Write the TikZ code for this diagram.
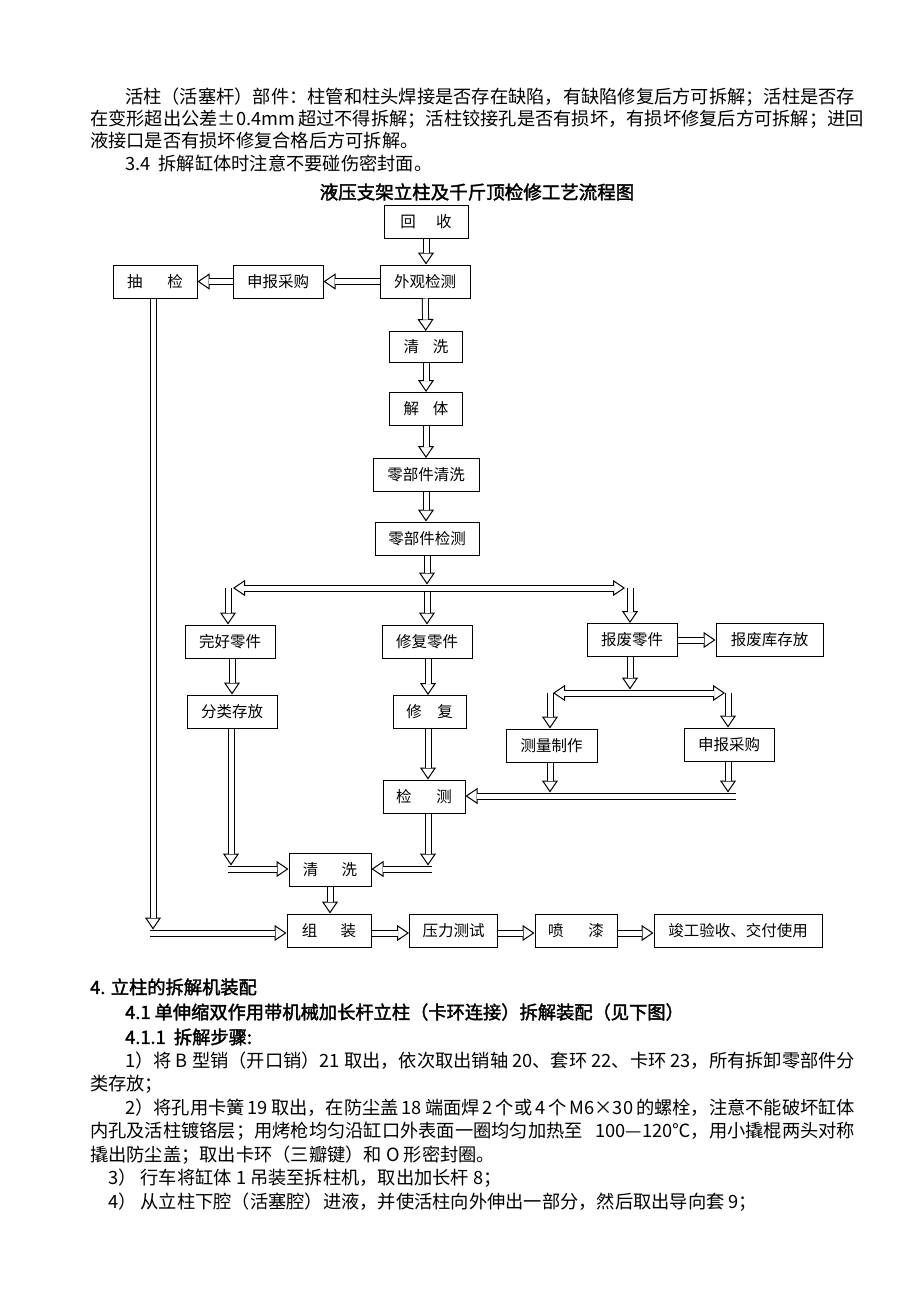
\documentclass[tikz,border=0pt]{standalone}
\usepackage{fontspec}
\setmainfont{Noto Sans CJK SC}
\newfontfamily\cjkbold[FakeBold=2]{Noto Sans CJK SC}
\usetikzlibrary{arrows.meta}
\XeTeXlinebreaklocale "zh"
\XeTeXlinebreakskip=0pt plus 4pt
\tikzset{
  box/.style={rectangle,draw,line width=1pt,minimum height=33pt,inner sep=0pt,font=\fontsize{15.5}{16}\selectfont},
  hollow/.tip={Triangle[open,fill=white,color=black,length=12pt,width=16pt,line width=1pt]},
  harrow/.style={preaction={draw=white,line width=0.3pt,shorten >=0pt,-hollow},
    preaction={draw=black,line width=7pt},draw=white,line width=5pt,shorten >=11.4pt},
  harrowgap/.style={preaction={draw=white,line width=0.3pt,shorten >=3.5pt,-hollow},
    preaction={draw=black,line width=7pt},draw=white,line width=5pt,shorten >=14.9pt},
  hbar/.style={preaction={draw=white,line width=0.3pt,shorten >=0pt,shorten <=0pt,hollow-hollow},
    preaction={draw=black,line width=7pt},draw=white,line width=5pt,shorten >=11.4pt,shorten <=11.4pt},
  txt/.style={anchor=west,inner sep=0pt,font=\fontsize{18.25}{22}\selectfont},
  headtxt/.style={anchor=west,inner sep=0pt,font=\cjkbold\fontsize{18.25}{22}\selectfont}
}
\begin{document}
\begin{tikzpicture}[x=1pt,y=-1pt]
        \useasboundingbox (0,0) rectangle (920,1302);
        \node at (125,97) [txt] (p1) {\makebox[730pt][s]{活柱（活塞杆）部件：柱管和柱头焊接是否存在缺陷，有缺陷修复后方可拆解；活柱是否存}};
        \node at (90,119) [txt] (p2) {\makebox[765pt][s]{在变形超出公差±0.4mm 超过不得拆解；活柱铰接孔是否有损坏，有损坏修复后方可拆解；进回}};
        \node at (90,141) [txt] (p3) {液接口是否有损坏修复合格后方可拆解。};
        \node at (125,163) [txt] (p4) {3.4\ \ 拆解缸体时注意不要碰伤密封面。};
        \node at (477,192) [font=\cjkbold\fontsize{18.5}{20}\selectfont,inner sep=0pt] (title) {液压支架立柱及千斤顶检修工艺流程图};

        \node at (426,222) [box,minimum width=84pt] (huishou) {回\hspace{1.3em}收};
        \node at (155,281.5) [box,minimum width=84pt] (choujian) {抽\hspace{1.6em}检};
        \node at (278,281.5) [box,minimum width=90pt] (shenbao1) {申报采购};
        \node at (425,281.5) [box,minimum width=90pt] (waiguan) {外观检测};
        \node at (426,347) [box,minimum width=73pt,minimum height=31pt] (qingxi1) {清\hspace{0.9em}洗};
        \node at (426,409) [box,minimum width=73pt] (jieti) {解\hspace{0.9em}体};
        \node at (426,475) [box,minimum width=106pt] (ljqx) {零部件清洗};
        \node at (427,538.5) [box,minimum width=104pt] (ljjc) {零部件检测};
        \node at (230,641.5) [box,minimum width=90pt] (wanhao) {完好零件};
        \node at (427,641.5) [box,minimum width=90pt] (xiuling) {修复零件};
        \node at (632,640) [box,minimum width=90pt] (baofei) {报废零件};
        \node at (769.5,640) [box,minimum width=107pt] (baofeiku) {报废库存放};
        \node at (232,711.5) [box,minimum width=90pt] (fenlei) {分类存放};
        \node at (429.5,712) [box,minimum width=73pt] (xiufu) {修\hspace{1em}复};
        \node at (551.5,745.5) [box,minimum width=91pt] (celiang) {测量制作};
        \node at (729,744.5) [box,minimum width=90pt] (shenbao2) {申报采购};
        \node at (424,796.5) [box,minimum width=82pt] (jiance) {检\hspace{1.6em}测};
        \node at (330,869.5) [box,minimum width=82pt] (qingxi2) {清\hspace{1.5em}洗};
        \node at (329,930.5) [box,minimum width=84pt] (zuzhuang) {组\hspace{1.5em}装};
        \node at (453.5,930.5) [box,minimum width=88pt] (yali) {压力测试};
        \node at (576,930.5) [box,minimum width=82pt] (penqi) {喷\hspace{1.6em}漆};
        \node at (738,930.5) [box,minimum width=168pt] (jungong) {竣工验收、交付使用};

        \coordinate (k1) at (153,933);
        \coordinate (k2) at (231,869);
        \coordinate (k3) at (428,869);
        \coordinate (k4) at (427,588);
        \coordinate (b1) at (228,588);
        \coordinate (b2) at (630,588);
        \coordinate (bl) at (233,588);
        \coordinate (br) at (625,588);
        \coordinate (k5) at (630,693);
        \coordinate (c1) at (550,693);
        \coordinate (c2) at (728,693);
        \coordinate (cl) at (553,693);
        \coordinate (cr) at (725,693);
        \coordinate (k6) at (732,796);

        \draw[harrow] (waiguan.west) -- (shenbao1.east);
        \draw[harrow] (shenbao1.west) -- (choujian.east);
        \draw[harrow] (waiguan) -- (qingxi1);
        \draw[harrow] (qingxi1) -- (jieti);
        \draw[harrow] (jieti) -- (ljqx);
        \draw[harrow] (ljqx) -- (ljqx |- ljjc.north);
        \draw[harrowgap] (ljjc.south -| k4) -- (k4);
        \draw[harrow] (b1) -- (b1 |- wanhao.north);
        \draw[harrow] (k4) -- (k4 |- xiuling.north);
        \draw[harrow] (b2) -- (b2 |- baofei.north);
        \draw[hbar] (bl) -- (br);

        \draw[harrow] (wanhao.south -| fenlei.north) -- (fenlei.north);
        \draw[harrow] (xiuling.south -| k3) -- (xiufu.north -| k3);
        \draw[harrow] (baofei.east) -- (baofeiku.west);
        \draw[harrowgap] (baofei.south -| k5) -- (k5);
        \draw[harrow] (c1) -- (c1 |- celiang.north);
        \draw[harrow] (c2) -- (c2 |- shenbao2.north);
        \draw[hbar] (cl) -- (cr);

        \draw[harrow,shorten <=-3.5pt] (k6) -- (k6 -| jiance.east);
        \draw[harrowgap] (celiang.south -| c1) -- (c1 |- k6);
        \draw[harrowgap] (shenbao2.south -| c2) -- (c2 |- k6);
        \draw[harrow] (xiufu.south -| k3) -- (jiance.north -| k3);

        \draw[harrow,shorten <=-3.5pt] (k2) -- (k2 -| qingxi2.west);
        \draw[harrow,shorten <=-3.5pt] (k3) -- (k3 -| qingxi2.east);
        \draw[harrowgap] (fenlei.south -| k2) -- (k2);
        \draw[harrowgap] (jiance.south -| k3) -- (k3);
        \draw[harrow] (qingxi2.south) -- (qingxi2.south |- zuzhuang.north);

        \draw[harrow,shorten <=-3.5pt] (k1) -- (k1 -| zuzhuang.west);
        \draw[harrowgap] (choujian.south -| k1) -- (k1);
        \draw[harrow] (zuzhuang.east |- k1) -- (yali.west |- k1);
        \draw[harrow] (yali.east |- k1) -- (penqi.west |- k1);
        \draw[harrow] (penqi.east |- k1) -- (jungong.west |- k1);

        \node at (90,987) [headtxt] (h4) {4. 立柱的拆解机装配};
        \node at (125,1012) [headtxt] (h41) {4.1 单伸缩双作用带机械加长杆立柱（卡环连接）拆解装配（见下图）};
        \node at (125,1037) [headtxt] (h411) {4.1.1\ \ 拆解步骤:};
        \node at (125,1061) [txt] (s1) {\makebox[730pt][s]{1）将 B 型销（开口销）21 取出，依次取出销轴 20、套环 22、卡环 23，所有拆卸零部件分}};
        \node at (90,1084) [txt] (s1b) {类存放；};
        \node at (125,1108) [txt] (s2) {\makebox[730pt][s]{2）将孔用卡簧 19 取出，在防尘盖 18 端面焊 2 个或 4 个 M6×30 的螺栓，注意不能破坏缸体}};
        \node at (90,1131) [txt] (s2b) {\makebox[765pt][s]{内孔及活柱镀铬层；用烤枪均匀沿缸口外表面一圈均匀加热至 100—120℃，用小撬棍两头对称}};
        \node at (90,1155) [txt] (s2c) {撬出防尘盖；取出卡环（三瓣键）和 O 形密封圈。};
        \node at (108,1178) [txt] (s3) {3）\ 行车将缸体 1 吊装至拆柱机，取出加长杆 8；};
        \node at (108,1202) [txt] (s4) {4）\ 从立柱下腔（活塞腔）进液，并使活柱向外伸出一部分，然后取出导向套 9；};

        \draw[harrow] (huishou) -- (huishou |- waiguan.north);
\end{tikzpicture}
\end{document}
